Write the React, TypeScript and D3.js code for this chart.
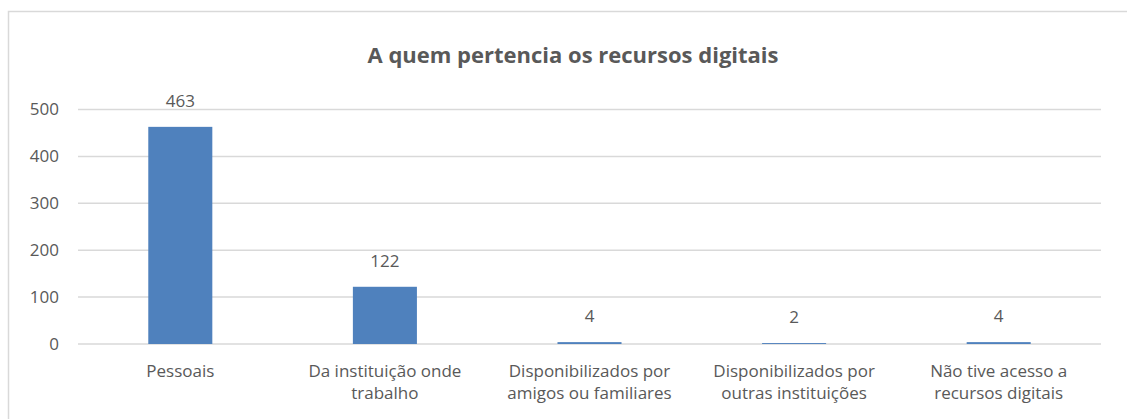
import React from "react";
import * as d3 from "d3";

const categories: string[][] = [
  ["Pessoais"],
  ["Da instituição onde", "trabalho"],
  ["Disponibilizados por", "amigos ou familiares"],
  ["Disponibilizados por", "outras instituições"],
  ["Não tive acesso a", "recursos digitais"],
];
const values: number[] = [463, 122, 4, 2, 4];
const yTicks: number[] = [0, 100, 200, 300, 400, 500];
const title = "A quem pertencia os recursos digitais";

const W = 1127;
const H = 419;
const FONT = "'Open Sans', 'Noto Sans', sans-serif";
const TEXT = "#595959";
const GRID = "#d9d9d9";
const BAR = "#4f81bd";

export default function App() {
  const left = 78;
  const right = 1101;
  const top = 109.5;
  const bottom = 344;
  const x = d3
    .scaleBand<number>()
    .domain(values.map((_, i) => i))
    .range([left, right])
    .paddingInner(0.687)
    .paddingOuter(0.3435);
  const y = d3.scaleLinear().domain([0, 500]).range([bottom, top]);

  return (
    <svg
      width={W}
      height={H}
      style={{ position: "absolute", left: 0, top: 0, display: "block" }}
    >
      <rect x={0} y={0} width={W} height={H} fill="#ffffff" />
      <rect
        x={8.5}
        y={11.5}
        width={W + 10}
        height={H + 10}
        fill="none"
        stroke={GRID}
        strokeWidth={1.5}
      />
      <text
        x={573}
        y={63}
        textAnchor="middle"
        fontFamily={FONT}
        fontWeight="bold"
        fontSize={22}
        fill={TEXT}
      >
        {title}
      </text>
      {yTicks.map((t) => (
        <g key={t}>
          <line
            x1={left}
            x2={right}
            y1={y(t)}
            y2={y(t)}
            stroke={GRID}
            strokeWidth={1.5}
          />
          <text
            x={59}
            y={y(t)}
            dy="0.35em"
            textAnchor="end"
            fontFamily={FONT}
            fontSize={17}
            fill={TEXT}
          >
            {t}
          </text>
        </g>
      ))}
      {values.map((v, i) => {
        const bx = x(i) as number;
        const bw = x.bandwidth();
        const cx = bx + bw / 2;
        return (
          <g key={i}>
            <rect
              x={bx}
              y={y(v)}
              width={bw}
              height={y(0) - y(v)}
              fill={BAR}
            />
            <text
              x={cx}
              y={y(v) - 20}
              textAnchor="middle"
              fontFamily={FONT}
              fontSize={17}
              fill={TEXT}
            >
              {v}
            </text>
            {categories[i].map((line, j) => (
              <text
                key={j}
                x={cx}
                y={376.5 + j * 22.7}
                textAnchor="middle"
                fontFamily={FONT}
                fontSize={17}
                fill={TEXT}
              >
                {line}
              </text>
            ))}
          </g>
        );
      })}
    </svg>
  );
}
